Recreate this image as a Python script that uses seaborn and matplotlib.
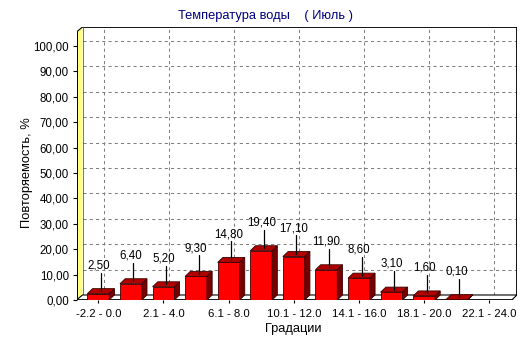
import numpy as np
import pandas as pd
import matplotlib
matplotlib.use("Agg")
import matplotlib.pyplot as plt
import seaborn as sns
from matplotlib.patches import Polygon, Rectangle
from matplotlib.lines import Line2D
from matplotlib.ticker import FuncFormatter

# ---- data -------------------------------------------------------------
categories = ["-2.2 - 0.0", "0.1 - 2.0", "2.1 - 4.0", "4.1 - 6.0",
              "6.1 - 8.0", "8.1 - 10.0", "10.1 - 12.0", "12.1 - 14.0",
              "14.1 - 16.0", "16.1 - 18.0", "18.1 - 20.0", "20.1 - 22.0",
              "22.1 - 24.0"]
frequency = [2.5, 6.4, 5.2, 9.3, 14.8, 19.4, 17.1, 11.9, 8.6, 3.1, 1.6, 0.1, 0.0]
y_ticks = [0, 10, 20, 30, 40, 50, 60, 70, 80, 90, 100]

title = "Температура воды    ( Июль )"
x_label = "Градации"
y_label = "Повторяемость, %"

# ---- style ------------------------------------------------------------
sns.set_style("white")
plt.rcParams["font.family"] = ["Liberation Sans", "DejaVu Sans"]

fig = plt.figure(figsize=(5.32, 3.43), dpi=100)
fig.patch.set_facecolor("white")
ax = fig.add_axes([0.1438, 0.1254, 0.828, 0.7959])
ax.set_facecolor("white")

# front-plane extents (data units) and 3-D depth of the box
x_left, x_right_back = -0.669, 12.851
y_top = 107.5
dx, dy = 0.16, 1.97
wall_dx = 0.185
x_right_front = x_right_back - dx

df = pd.DataFrame({"cat": categories, "val": frequency})
sns.barplot(data=df, x="cat", y="val", order=categories, color="#FF0000",
            saturation=1, width=0.67, edgecolor="#3a0000", linewidth=0.6,
            ax=ax, zorder=4)

# drop empty bars
for p in list(ax.patches):
    if p.get_height() == 0:
        p.remove()

# ---- back wall grid ---------------------------------------------------
grid_kw = dict(color="#808080", lw=0.75, ls=(0, (3, 3)), zorder=0)
for t in y_ticks[1:]:
    ax.add_line(Line2D([x_left + wall_dx, x_right_back], [t + dy, t + dy], **grid_kw))
for i in range(0, len(categories), 2):
    ax.add_line(Line2D([i + dx, i + dx], [dy, y_top], **grid_kw))

# back wall border
ax.add_line(Line2D([x_left + wall_dx, x_right_back, x_right_back],
                   [y_top, y_top, dy], color="black", lw=1.3, zorder=1))

# left wall (yellow)
ax.add_patch(Polygon([(x_left, 0), (x_left + wall_dx, dy),
                      (x_left + wall_dx, y_top), (x_left, y_top - dy)],
                     closed=True, facecolor="#FFFF80", edgecolor="none",
                     zorder=2))
ax.add_line(Line2D([x_left + wall_dx, x_left + wall_dx], [dy, y_top],
                   color="#404040", lw=0.5, zorder=2))
ax.add_line(Line2D([x_left, x_left + wall_dx], [y_top - dy, y_top],
                   color="black", lw=0.8, zorder=2))
ax.add_line(Line2D([x_left, x_left], [0, y_top - dy], color="black",
                   lw=1.4, zorder=2))

# floor
ax.add_patch(Polygon([(x_left, 0), (x_right_front, 0), (x_right_back, dy),
                      (x_left + wall_dx, dy)], closed=True,
                     facecolor="white", edgecolor="black", lw=0.8, zorder=2))
ax.add_line(Line2D([x_left, x_right_front], [0, 0], color="black",
                   lw=1.8, zorder=2))

# ---- 3-D faces of the bars -------------------------------------------
for p in list(ax.patches):
    if not isinstance(p, Rectangle):
        continue
    x0, w, h = p.get_x(), p.get_width(), p.get_height()
    if h <= 0 or w > 1:
        continue
    top = Polygon([(x0, h), (x0 + w, h), (x0 + w + dx, h + dy), (x0 + dx, h + dy)],
                  closed=True, facecolor="#B00000", edgecolor="#3a0000",
                  lw=0.6, zorder=4)
    side = Polygon([(x0 + w, 0), (x0 + w + dx, dy), (x0 + w + dx, h + dy),
                    (x0 + w, h)], closed=True, facecolor="#760000",
                   edgecolor="#3a0000", lw=0.6, zorder=4)
    ax.add_patch(top)
    ax.add_patch(side)

# ---- value labels with leader lines ----------------------------------
for i, v in enumerate(frequency):
    if v <= 0:
        continue
    ax.add_line(Line2D([i + dx / 2, i + dx / 2], [v + dy / 2, v + 8.3],
                       color="black", lw=0.9, zorder=5))
    ax.text(i, v + 11.1, f"{v:.2f}".replace(".", ","), ha="center",
            va="center", fontsize=8.3, color="black", zorder=6)

# ---- axes, ticks -------------------------------------------------------
ax.set_xlim(x_left, x_right_back)
ax.set_ylim(0, y_top)
for s in ax.spines.values():
    s.set_visible(False)

ax.set_yticks(y_ticks)
ax.yaxis.set_major_formatter(FuncFormatter(lambda v, _: f"{v:.2f}".replace(".", ",")))
ax.tick_params(axis="y", which="major", left=True, length=3.2, width=0.8,
               pad=2.2, labelsize=8.3, colors="black")

ax.set_xticks(range(0, len(categories), 2))
ax.set_xticklabels(categories[::2])
ax.tick_params(axis="x", bottom=True, length=2.5, width=0.8, pad=4,
               labelsize=8.2, colors="black")
ax.set_xlabel("")
ax.set_ylabel("")

fig.text(0.5, 1 - 15.5 / 343, title, ha="center", va="center",
         fontsize=9.3, color="#000080")
fig.text(293 / 532, 1 - 329 / 343, x_label, ha="center", va="center",
         fontsize=9.3, color="black")
fig.text(27 / 532, 1 - 173 / 343, y_label, ha="center", va="center",
         rotation=90, fontsize=9.3, color="black")

fig.savefig("out.png", dpi=100)
